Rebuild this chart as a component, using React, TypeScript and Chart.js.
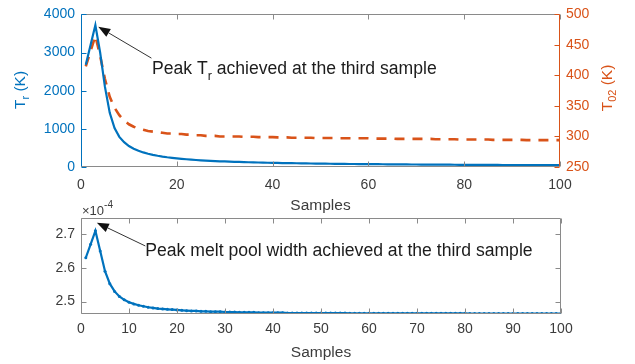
import React, { useEffect, useRef } from 'react';
import { Chart, registerables } from 'chart.js';

Chart.register(...registerables);

const FONT = "'Liberation Sans', Arial, Helvetica, sans-serif";
const BLUE = '#0072BD';
const ORANGE = '#D95319';
const AXIS = '#8a8a8a';
const TEXT = '#3c3c3c';
const INK = '#1c1c1c';

// ---- data ----
const sampleIdx: number[] = Array.from({ length: 100 }, (_, i) => i + 1);

const trK: number[] = [
  2680, 3200, 3720, 3000, 2100, 1420, 1020, 790, 650, 550,
  480, 425, 382, 347, 318, 294, 273, 255, 240, 226,
  214, 203, 193, 184, 176, 169, 162, 156, 150, 145,
  140, 136, 132, 128, 124, 121, 118, 115, 112, 110,
  107, 104, 102, 100, 98, 96, 94, 92, 90, 88,
  86, 85, 83, 82, 81, 79, 78, 77, 76, 75,
  74, 73, 72, 71, 70, 69, 68, 67, 66, 65,
  64, 63, 63, 62, 61, 60, 60, 59, 58, 58,
  57, 56, 56, 55, 55, 54, 54, 53, 53, 52,
  52, 51, 51, 50, 50, 49, 49, 48, 48, 48,
];

const t02K: number[] = [
  415, 440, 465, 432, 394, 365, 347, 335, 326, 320,
  316, 313, 311, 309, 308, 307, 306, 305, 305, 304,
  304, 303, 303, 302, 302, 301, 301, 301, 300, 300,
  300, 300, 300, 299.5, 299.5, 299.5, 299, 299, 299, 299,
  298.5, 298.5, 298.5, 298, 298, 298, 298, 298, 297.5, 297.5,
  297.5, 297.5, 297.5, 297, 297, 297, 297, 297, 297, 297,
  296.5, 296.5, 296.5, 296.5, 296.5, 296, 296, 296, 296, 296,
  296, 296, 296, 295.5, 295.5, 295.5, 295.5, 295.5, 295, 295,
  295, 295, 295, 295, 295, 294.5, 294.5, 294.5, 294.5, 294.5,
  294.5, 294.5, 294, 294, 294, 294, 294, 294, 294, 294,
];

// melt pool width, in units of 1e-4 m
const w2e4: number[] = [
  2.630, 2.670, 2.710, 2.650, 2.590, 2.553, 2.530, 2.515, 2.505, 2.498,
  2.493, 2.489, 2.486, 2.483, 2.481, 2.479, 2.478, 2.477, 2.476, 2.475,
  2.474, 2.473, 2.472, 2.472, 2.471, 2.471, 2.470, 2.470, 2.470, 2.469,
  2.469, 2.469, 2.468, 2.468, 2.468, 2.468, 2.467, 2.467, 2.467, 2.467,
  2.467, 2.467, 2.466, 2.466, 2.466, 2.466, 2.466, 2.466, 2.466, 2.466,
  2.466, 2.466, 2.466, 2.466, 2.466, 2.465, 2.465, 2.465, 2.465, 2.465,
  2.465, 2.465, 2.465, 2.465, 2.465, 2.465, 2.465, 2.465, 2.465, 2.465,
  2.465, 2.465, 2.465, 2.465, 2.465, 2.465, 2.465, 2.465, 2.465, 2.465,
  2.4645, 2.4645, 2.4645, 2.4645, 2.4645, 2.4645, 2.4645, 2.4645, 2.4645, 2.4645,
  2.4645, 2.4645, 2.4645, 2.4645, 2.4645, 2.4645, 2.4645, 2.4645, 2.4645, 2.4645,
];

const xTicksTop: number[] = [0, 20, 40, 60, 80, 100];
const trTicks: number[] = [0, 1000, 2000, 3000, 4000];
const t02Ticks: number[] = [250, 300, 350, 400, 450, 500];
const xTicksBottom: number[] = [0, 10, 20, 30, 40, 50, 60, 70, 80, 90, 100];
const w2Ticks: number[] = [2.5, 2.6, 2.7];

const xLabel = 'Samples';
const topNote = ['Peak T', 'r', ' achieved at the third sample'];
const bottomNote = 'Peak melt pool width achieved at the third sample';

type Part = { t: string; size: number; dy: number };

function drawParts(
  ctx: CanvasRenderingContext2D,
  parts: Part[],
  x: number,
  y: number,
  color: string,
  rot: number,
  align: 'left' | 'center'
) {
  ctx.save();
  ctx.translate(x, y);
  if (rot) ctx.rotate(rot);
  ctx.fillStyle = color;
  ctx.textBaseline = 'alphabetic';
  ctx.textAlign = 'left';
  const widths = parts.map((p) => {
    ctx.font = `${p.size}px ${FONT}`;
    return ctx.measureText(p.t).width;
  });
  const total = widths.reduce((a, b) => a + b, 0);
  let cx = align === 'center' ? -total / 2 : 0;
  parts.forEach((p, i) => {
    ctx.font = `${p.size}px ${FONT}`;
    ctx.fillText(p.t, cx, p.dy);
    cx += widths[i];
  });
  ctx.restore();
}

function seg(ctx: CanvasRenderingContext2D, x1: number, y1: number, x2: number, y2: number) {
  ctx.beginPath();
  ctx.moveTo(x1, y1);
  ctx.lineTo(x2, y2);
  ctx.stroke();
}

function arrow(ctx: CanvasRenderingContext2D, fx: number, fy: number, tx: number, ty: number) {
  const ang = Math.atan2(ty - fy, tx - fx);
  const len = 12;
  const hw = 4.5;
  const bx = tx - len * Math.cos(ang);
  const by = ty - len * Math.sin(ang);
  ctx.save();
  ctx.strokeStyle = '#333';
  ctx.lineWidth = 1;
  seg(ctx, fx, fy, bx, by);
  ctx.fillStyle = '#111';
  ctx.beginPath();
  ctx.moveTo(tx, ty);
  ctx.lineTo(bx + hw * Math.sin(ang), by - hw * Math.cos(ang));
  ctx.lineTo(bx - hw * Math.sin(ang), by + hw * Math.cos(ang));
  ctx.closePath();
  ctx.fill();
  ctx.restore();
}

const fixTicks = (arr: number[]) => (s: any) => {
  s.ticks = arr.map((v) => ({ value: v }));
};

const plain = (v: any) => String(v);

const TICK_FONT = { family: FONT, size: 14 };

const topDecor = {
  id: 'topDecor',
  afterDraw(chart: any) {
    const { ctx, chartArea: a, scales } = chart;
    const x = scales.x;
    const y = scales.y;
    const y1 = scales.y1;
    const L = Math.round(a.left) + 0.5;
    const R = Math.round(a.right) - 0.5;
    const T = Math.round(a.top) + 0.5;
    const B = Math.round(a.bottom) - 0.5;
    ctx.save();
    ctx.lineWidth = 1;
    ctx.strokeStyle = AXIS;
    seg(ctx, L, T, R, T);
    seg(ctx, L, B, R, B);
    xTicksTop.forEach((v) => {
      const px = Math.round(x.getPixelForValue(v)) + 0.5;
      seg(ctx, px, B, px, B - 5);
      seg(ctx, px, T, px, T + 5);
    });
    ctx.strokeStyle = BLUE;
    seg(ctx, L, T, L, B);
    trTicks.forEach((v) => {
      const py = Math.round(y.getPixelForValue(v)) + 0.5;
      seg(ctx, L, py, L + 5, py);
    });
    ctx.strokeStyle = ORANGE;
    seg(ctx, R, T, R, B);
    t02Ticks.forEach((v) => {
      const py = Math.round(y1.getPixelForValue(v)) + 0.5;
      seg(ctx, R, py, R - 5, py);
    });
    ctx.restore();

    // axis titles
    drawParts(
      ctx,
      [
        { t: 'T', size: 15.5, dy: 0 },
        { t: 'r', size: 11, dy: 4 },
        { t: ' (K)', size: 15.5, dy: 0 },
      ],
      25,
      90,
      BLUE,
      -Math.PI / 2,
      'center'
    );
    drawParts(
      ctx,
      [
        { t: 'T', size: 15.5, dy: 0 },
        { t: '02', size: 11, dy: 4 },
        { t: ' (K)', size: 15.5, dy: 0 },
      ],
      612,
      88,
      ORANGE,
      -Math.PI / 2,
      'center'
    );

    // annotation
    const tipX = x.getPixelForValue(3.6);
    const tipY = y.getPixelForValue(3676);
    const tailX = x.getPixelForValue(14.7);
    const tailY = y.getPixelForValue(2854);
    arrow(ctx, tailX, tailY, tipX, tipY);
    drawParts(
      ctx,
      [
        { t: topNote[0], size: 17.6, dy: 0 },
        { t: topNote[1], size: 12.5, dy: 6 },
        { t: topNote[2], size: 17.6, dy: 0 },
      ],
      x.getPixelForValue(14.8),
      y.getPixelForValue(2428),
      INK,
      0,
      'left'
    );
  },
};

const bottomDecor = {
  id: 'bottomDecor',
  afterDraw(chart: any) {
    const { ctx, chartArea: a, scales } = chart;
    const x = scales.x;
    const y = scales.y;
    const L = Math.round(a.left) + 0.5;
    const R = Math.round(a.right) - 0.5;
    const T = Math.round(a.top) + 0.5;
    const B = Math.round(a.bottom) - 0.5;
    ctx.save();
    ctx.lineWidth = 1;
    ctx.strokeStyle = AXIS;
    seg(ctx, L, T, R, T);
    seg(ctx, L, B, R, B);
    seg(ctx, L, T, L, B);
    seg(ctx, R, T, R, B);
    xTicksBottom.forEach((v) => {
      const px = Math.round(x.getPixelForValue(v)) + 0.5;
      seg(ctx, px, B, px, B - 5);
      seg(ctx, px, T, px, T + 5);
    });
    w2Ticks.forEach((v) => {
      const py = Math.round(y.getPixelForValue(v)) + 0.5;
      seg(ctx, L, py, L + 5, py);
      seg(ctx, R, py, R - 5, py);
    });
    ctx.restore();

    // exponent
    drawParts(
      ctx,
      [
        { t: '\u00d710', size: 13, dy: 0 },
        { t: '-4', size: 10, dy: -7 },
      ],
      a.left + 1,
      a.top - 3,
      TEXT,
      0,
      'left'
    );

    drawParts(
      ctx,
      [
        { t: 'w', size: 15.5, dy: 0 },
        { t: '2', size: 11, dy: 4 },
        { t: ' (m)', size: 15.5, dy: 0 },
      ],
      47,
      267,
      TEXT,
      -Math.PI / 2,
      'center'
    );

    const tipX = x.getPixelForValue(3.3);
    const tipY = y.getPixelForValue(2.734);
    const tailX = x.getPixelForValue(13.4);
    const tailY = y.getPixelForValue(2.665);
    arrow(ctx, tailX, tailY, tipX, tipY);
    drawParts(
      ctx,
      [{ t: bottomNote, size: 17.6, dy: 0 }],
      x.getPixelForValue(13.4),
      y.getPixelForValue(2.636),
      INK,
      0,
      'left'
    );
  },
};

function TopChart() {
  const ref = useRef<HTMLCanvasElement | null>(null);
  useEffect(() => {
    if (!ref.current) return;
    const chart = new Chart(ref.current, {
      type: 'line',
      data: {
        datasets: [
          {
            label: 'Tr (K)',
            data: sampleIdx.map((s, i) => ({ x: s, y: trK[i] })),
            borderColor: BLUE,
            borderWidth: 2.2,
            pointRadius: 0,
            yAxisID: 'y',
            tension: 0,
          },
          {
            label: 'T02 (K)',
            data: sampleIdx.map((s, i) => ({ x: s, y: t02K[i] })),
            borderColor: ORANGE,
            borderWidth: 2.6,
            borderDash: [10, 8],
            pointRadius: 0,
            yAxisID: 'y1',
            tension: 0,
          },
        ],
      },
      options: {
        animation: false,
        responsive: false,
        devicePixelRatio: 1,
        layout: { padding: { top: 10, left: 0, right: 0, bottom: 0 } },
        plugins: { legend: { display: false }, tooltip: { enabled: false } },
        scales: {
          x: {
            type: 'linear',
            min: 0,
            max: 100,
            afterBuildTicks: fixTicks(xTicksTop),
            afterFit: (s: any) => {
              s.height = 48;
            },
            grid: { display: false, drawTicks: false },
            border: { display: false },
            ticks: { color: TEXT, font: TICK_FONT, padding: 10, maxRotation: 0, autoSkip: false, callback: plain },
            title: {
              display: true,
              text: xLabel,
              color: TEXT,
              font: { family: FONT, size: 15.5 },
              padding: { top: 0, bottom: 0 },
            },
          },
          y: {
            position: 'left',
            min: 0,
            max: 4000,
            afterBuildTicks: fixTicks(trTicks),
            afterFit: (s: any) => {
              s.width = 81;
            },
            grid: { display: false, drawTicks: false },
            border: { display: false },
            ticks: { color: BLUE, font: TICK_FONT, padding: 6, callback: plain },
          },
          y1: {
            position: 'right',
            min: 250,
            max: 500,
            afterBuildTicks: fixTicks(t02Ticks),
            afterFit: (s: any) => {
              s.width = 75;
            },
            grid: { display: false, drawTicks: false },
            border: { display: false },
            ticks: { color: ORANGE, font: TICK_FONT, padding: 6, callback: plain },
          },
        },
      },
      plugins: [topDecor],
    } as any);
    return () => chart.destroy();
  }, []);
  return (
    <canvas
      ref={ref}
      width={635}
      height={215}
      style={{ position: 'absolute', left: 0, top: 0, width: 635, height: 215 }}
    />
  );
}

function BottomChart() {
  const ref = useRef<HTMLCanvasElement | null>(null);
  useEffect(() => {
    if (!ref.current) return;
    const chart = new Chart(ref.current, {
      type: 'line',
      data: {
        datasets: [
          {
            label: 'w2 (m)',
            data: sampleIdx.map((s, i) => ({ x: s, y: w2e4[i] })),
            borderColor: BLUE,
            backgroundColor: BLUE,
            borderWidth: 2.2,
            pointRadius: 1.5,
            pointBorderWidth: 0,
            pointBackgroundColor: BLUE,
            tension: 0,
          },
        ],
      },
      options: {
        animation: false,
        responsive: false,
        devicePixelRatio: 1,
        layout: { padding: { top: 23, left: 0, right: 74, bottom: 0 } },
        plugins: { legend: { display: false }, tooltip: { enabled: false } },
        scales: {
          x: {
            type: 'linear',
            min: 0,
            max: 100,
            afterBuildTicks: fixTicks(xTicksBottom),
            afterFit: (s: any) => {
              s.height = 50;
            },
            grid: { display: false, drawTicks: false },
            border: { display: false },
            ticks: { color: TEXT, font: TICK_FONT, padding: 7, maxRotation: 0, autoSkip: false, callback: plain },
            title: {
              display: true,
              text: xLabel,
              color: TEXT,
              font: { family: FONT, size: 15.5 },
              padding: { top: 0, bottom: 2 },
            },
          },
          y: {
            position: 'left',
            min: 2.463,
            max: 2.748,
            afterBuildTicks: fixTicks(w2Ticks),
            afterFit: (s: any) => {
              s.width = 81;
            },
            grid: { display: false, drawTicks: false },
            border: { display: false },
            ticks: {
              color: TEXT,
              font: TICK_FONT,
              padding: 6,
              callback: (v: any) => Number(v).toFixed(1),
            },
          },
        },
      },
      plugins: [bottomDecor],
    } as any);
    return () => chart.destroy();
  }, []);
  return (
    <canvas
      ref={ref}
      width={635}
      height={169}
      style={{ position: 'absolute', left: 0, top: 195, width: 635, height: 169 }}
    />
  );
}

export default function App() {
  return (
    <div
      style={{
        position: 'absolute',
        left: 0,
        top: 0,
        width: 635,
        height: 364,
        background: '#ffffff',
        overflow: 'hidden',
      }}
    >
      <TopChart />
      <BottomChart />
    </div>
  );
}
